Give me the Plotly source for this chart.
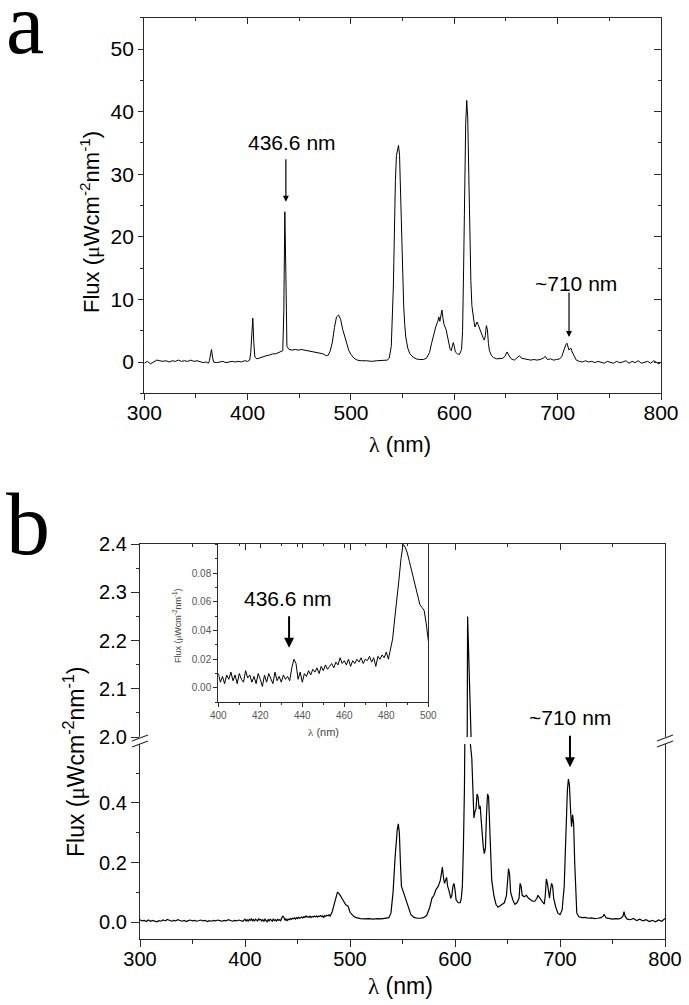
import plotly.graph_objects as go

# ---------------- data ----------------
# Panel a: spectrum (wavelength nm, flux uW cm^-2 nm^-1)
lam_a = [300, 303, 306, 309, 312, 315, 318, 321, 324, 327, 330, 333, 336, 339, 342, 345, 348, 351, 354, 357,
         360, 362, 363, 364, 365, 366, 367, 370, 373, 376, 379, 382, 385, 388, 391, 394, 397, 400, 402, 403,
         404, 405, 406, 407, 409, 412, 415, 418, 421, 424, 427, 430, 432, 434, 435, 436, 437, 438, 440, 443,
         446, 449, 452, 455, 458, 461, 464, 467, 470, 473, 476, 478, 480, 482, 484, 486, 488, 490, 492, 494,
         496, 498, 500, 503, 506, 510, 515, 520, 525, 530, 535, 537, 539, 541, 542, 543, 544, 545, 546, 547,
         548, 549, 550, 551, 552, 553, 555, 557, 560, 563, 566, 570, 573, 576, 578, 580, 582, 584, 585, 586,
         587, 588, 589, 590, 592, 594, 596, 597, 598, 599, 600, 601, 603, 605, 607, 608, 609, 610, 611, 612,
         613, 614, 615, 616, 617, 618, 619, 620, 621, 622, 623, 624, 626, 628, 629, 630, 631, 632, 633, 634,
         636, 638, 641, 644, 647, 649, 651, 653, 655, 658, 661, 663, 665, 668, 671, 674, 677, 680, 683, 686,
         688, 690, 693, 696, 699, 702, 704, 706, 708, 709, 710, 711, 712, 713, 714, 716, 718, 721, 724, 727,
         730, 733, 736, 739, 742, 745, 748, 751, 754, 757, 760, 763, 766, 769, 772, 775, 778, 781, 784, 787,
         790, 793, 796, 798, 800]
flux_a = [-0.2, 0.1, -0.3, 0.0, 0.3, 0.2, 0.1, 0.2, 0.0, 0.2, 0.1, 0.3, 0.1, 0.2, 0.1, 0.3, 0.1, 0.2, 0.0, -0.1,
          0.0, -0.2, 0.2, 1.2, 2.0, 0.8, 0.0, -0.1, 0.0, 0.1, -0.1, 0.0, 0.1, 0.0, 0.1, 0.0, 0.2, 0.1, 0.3, 1.5,
          5.5, 7.0, 3.0, 0.8, 0.5, 0.7, 0.9, 1.0, 1.1, 1.3, 1.3, 1.5, 1.6, 1.8, 8.0, 24.0, 14.0, 2.5, 2.0, 1.9,
          2.0, 1.9, 2.0, 1.9, 1.9, 1.8, 1.7, 1.6, 1.5, 1.3, 1.0, 1.1, 1.8, 3.2, 5.5, 7.2, 7.5, 6.8, 5.2, 4.0,
          2.8, 1.8, 1.2, 0.6, 0.3, 0.2, 0.2, 0.1, 0.2, 0.2, 0.3, 0.6, 2.5, 12.0, 22.0, 29.0, 33.0, 33.8, 34.6, 33.0,
          27.0, 18.0, 12.0, 9.0, 6.0, 4.0, 2.2, 1.3, 0.8, 0.5, 0.4, 0.4, 0.6, 1.5, 3.0, 4.5, 5.6, 6.5, 7.2, 6.5,
          7.5, 8.3, 7.0, 6.0, 5.2, 3.5, 2.0, 1.8, 2.8, 3.1, 2.5, 1.6, 1.3, 1.2, 2.0, 5.0, 15.0, 28.0, 38.0, 41.8,
          39.0, 30.0, 20.0, 13.0, 9.0, 7.5, 6.5, 5.6, 6.0, 6.4, 6.0, 5.5, 4.8, 3.8, 3.5, 4.2, 5.8, 5.2, 3.0, 1.8,
          1.0, 0.7, 0.5, 0.5, 0.6, 0.9, 1.6, 1.0, 0.5, 0.3, 0.7, 1.0, 0.6, 0.5, 0.4, 0.3, 0.4, 0.3, 0.4, 0.6,
          0.9, 0.4, 0.5, 0.3, 0.4, 0.5, 0.9, 2.0, 2.8, 3.0, 2.6, 1.9, 2.1, 2.2, 1.6, 0.8, 0.3, 0.1, 0.0, 0.2,
          0.0, 0.1, -0.1, 0.1, 0.0, -0.2, 0.1, 0.0, -0.2, 0.1, -0.1, 0.0, 0.2, -0.2, 0.1, -0.1, 0.2, -0.2, 0.0, 0.1,
          -0.2, 0.2, -0.1, -0.3, 0.0]

# Panel b (and inset): spectrum
lam_b = [300, 302, 304, 306, 308, 310, 312, 314, 316, 318, 320, 322, 324, 326, 328, 330, 332, 334, 336, 338,
         340, 342, 344, 346, 348, 350, 352, 354, 356, 358, 360, 362, 364, 366, 368, 370, 372, 374, 376, 378,
         380, 382, 384, 386, 388, 390, 392, 394, 396, 398,
         400, 401, 402, 403, 404, 405, 406, 407, 408, 409, 410, 411, 412, 413, 414, 415, 416, 417, 418, 419,
         420, 421, 422, 423, 424, 425, 426, 427, 428, 429, 430, 431, 432, 433, 434, 435, 436, 437, 438, 439,
         440, 441, 442, 443, 444, 445, 446, 447, 448, 449, 450, 451, 452, 453, 454, 455, 456, 457, 458, 459,
         460, 461, 462, 463, 464, 465, 466, 467, 468, 469, 470, 471, 472, 473, 474, 475, 476, 477, 478, 479,
         480, 481, 482, 483, 484, 485, 486, 487, 488, 489, 490, 491, 492, 493, 494, 495, 496, 497, 498, 499,
         500, 502, 504, 506, 508, 510, 514, 518, 522, 526, 530, 534, 537, 539, 541, 543, 544, 545, 546, 547,
         548, 549, 550, 552, 554, 556, 558, 561, 564, 567, 570, 573, 576, 578, 580, 582, 584, 586, 587, 588,
         589, 590, 591, 592, 593, 594, 596, 597, 598, 599, 600, 601, 603, 605, 606, 607, 608, 609, 610, 611,
         612, 613, 614, 615, 616, 617, 618, 619, 620, 621, 622, 623, 624, 625, 626, 627, 628, 629, 630, 631,
         632, 633, 634, 635, 637, 639, 641, 643, 645, 647, 649, 650, 651, 652, 653, 655, 657, 659, 661, 662,
         663, 664, 666, 668, 670, 672, 674, 676, 678, 679, 681, 683, 685, 686, 687, 688, 689, 690, 691, 692,
         693, 694, 696, 698, 700, 702, 704, 705, 706, 707, 708, 709, 710, 711, 712, 713, 714, 715, 716, 718,
         721, 724, 727, 730, 733, 736, 739, 741, 742, 744, 747, 750, 753, 756, 758, 760, 761, 762, 764, 767,
         770, 773, 776, 779, 782, 785, 788, 791, 794, 797, 800]
flux_b = [0.008, 0.004, 0.006, 0.002, 0.007, 0.003, 0.006, 0.004, 0.001, 0.005, 0.003, 0.007, 0.004, 0.009, 0.005, 0.003, 0.006, 0.004, 0.008, 0.005,
          0.003, 0.006, 0.002, 0.005, 0.007, 0.004, 0.006, 0.003, 0.005, 0.007, 0.004, 0.006, 0.002, 0.005, 0.003, 0.006, 0.004, 0.007, 0.005, 0.003,
          0.006, 0.004, 0.008, 0.005, 0.003, 0.006, 0.004, 0.007, 0.005, 0.003,
          0.010, 0.004, 0.008, 0.003, 0.009, 0.006, 0.011, 0.005, 0.009, 0.003, 0.010, 0.006, 0.004, 0.012, 0.007, 0.009, 0.004, 0.008, 0.003, 0.010,
          0.006, 0.001, 0.009, 0.004, 0.010, 0.006, 0.003, 0.011, 0.005, 0.008, 0.004, 0.009, 0.006, 0.008, 0.005, 0.014, 0.020, 0.017, 0.006, 0.011,
          0.004, 0.010, 0.008, 0.012, 0.009, 0.013, 0.011, 0.014, 0.010, 0.015, 0.012, 0.016, 0.013, 0.015, 0.017, 0.014, 0.018, 0.016, 0.021, 0.017,
          0.019, 0.016, 0.020, 0.015, 0.019, 0.017, 0.020, 0.018, 0.021, 0.017, 0.020, 0.019, 0.022, 0.018, 0.021, 0.015, 0.022, 0.020, 0.023, 0.021,
          0.025, 0.020, 0.026, 0.034, 0.048, 0.060, 0.075, 0.090, 0.100, 0.098, 0.094, 0.088, 0.082, 0.075, 0.068, 0.062, 0.058, 0.056, 0.054, 0.045,
          0.033, 0.025, 0.018, 0.015, 0.013, 0.012, 0.011, 0.012, 0.010, 0.012, 0.011, 0.012, 0.015, 0.030, 0.100, 0.220, 0.290, 0.310, 0.330, 0.300,
          0.200, 0.120, 0.110, 0.090, 0.070, 0.045, 0.025, 0.016, 0.013, 0.013, 0.015, 0.022, 0.050, 0.080, 0.090, 0.110, 0.120, 0.140, 0.160, 0.185,
          0.150, 0.130, 0.140, 0.150, 0.120, 0.110, 0.080, 0.090, 0.120, 0.130, 0.110, 0.075, 0.065, 0.065, 0.080, 0.120, 0.250, 0.450, 0.900, 1.600,
          2.250, 1.300, 0.620, 0.580, 0.550, 0.450, 0.350, 0.370, 0.380, 0.430, 0.420, 0.380, 0.390, 0.340, 0.290, 0.250, 0.230, 0.250, 0.360, 0.430,
          0.420, 0.330, 0.220, 0.140, 0.090, 0.060, 0.050, 0.055, 0.060, 0.065, 0.090, 0.140, 0.180, 0.160, 0.100, 0.075, 0.060, 0.065, 0.080, 0.130,
          0.120, 0.090, 0.085, 0.090, 0.080, 0.075, 0.070, 0.070, 0.080, 0.090, 0.080, 0.070, 0.060, 0.090, 0.145, 0.130, 0.100, 0.080, 0.110, 0.130,
          0.120, 0.080, 0.050, 0.030, 0.025, 0.040, 0.120, 0.250, 0.380, 0.440, 0.480, 0.460, 0.380, 0.320, 0.360, 0.330, 0.200, 0.080, 0.030, 0.018,
          0.015, 0.016, 0.013, 0.014, 0.012, 0.013, 0.015, 0.020, 0.025, 0.014, 0.012, 0.010, 0.012, 0.011, 0.013, 0.020, 0.035, 0.020, 0.010, 0.008,
          0.012, 0.005, 0.010, 0.004, 0.008, 0.002, 0.006, 0.001, 0.007, 0.003, 0.012]

# tick values / labels
a_yticks = [0, 10, 20, 30, 40, 50]
b_low_ticks = [0.0, 0.2, 0.4]
b_up_ticks = [2.0, 2.1, 2.2, 2.3, 2.4]
inset_yticks = [0.00, 0.02, 0.04, 0.06, 0.08]
x_ticks = [300, 400, 500, 600, 700, 800]
inset_xticks = [400, 420, 440, 460, 480, 500]

# ---------------- layout helpers ----------------
W, H = 689, 1005
def px(v):
    return v / W
def py(v):
    return 1 - v / H

FONT = "Liberation Sans, Arial, sans-serif"
SERIF = "Liberation Serif, Times New Roman, serif"
AX = "#2a2a2a"

def axis(**kw):
    d = dict(showline=True, linecolor=AX, linewidth=1.3, showgrid=False, zeroline=False,
             ticks="outside", tickcolor=AX, tickwidth=1.2, ticklen=6, automargin=False,
             tickfont=dict(family=FONT, size=21, color="black"))
    d.update(kw)
    return d

def mirror_axis(**kw):
    d = dict(showline=True, linecolor=AX, linewidth=1.3, showgrid=False, zeroline=False,
             ticks="inside", tickcolor=AX, tickwidth=1.2, ticklen=6, showticklabels=False, automargin=False)
    d.update(kw)
    return d

line_style = dict(color="black", width=1)

fig = go.Figure()
# panel a
fig.add_trace(go.Scatter(x=lam_a, y=flux_a, mode="lines", line=line_style, xaxis="x", yaxis="y"))
fig.add_trace(go.Scatter(x=[], y=[], mode="lines", xaxis="x2", yaxis="y2"))
# panel b lower & upper segments
fig.add_trace(go.Scatter(x=lam_b, y=flux_b, mode="lines", line=dict(color="black", width=1.2), xaxis="x3", yaxis="y3"))
fig.add_trace(go.Scatter(x=lam_b, y=flux_b, mode="lines", line=dict(color="black", width=1.2), xaxis="x3", yaxis="y4"))
fig.add_trace(go.Scatter(x=[], y=[], mode="lines", xaxis="x4", yaxis="y4"))
# inset
fig.add_trace(go.Scatter(x=lam_b, y=flux_b, mode="lines", line=dict(color="black", width=1), xaxis="x5", yaxis="y5"))
fig.add_trace(go.Scatter(x=[], y=[], mode="lines", xaxis="x6", yaxis="y5"))

A_X = [px(144.3), px(661)]
A_Y = [py(393.3), py(17.7)]
B_X = [px(140), px(665)]
B_YL = [py(938.5), py(744)]
B_YU = [py(737), py(544.3)]
I_X = [px(218.3), px(428.3)]
I_Y = [py(702.3), py(544.3)]

minor_out = lambda dt, ln=3: dict(dtick=dt, ticks="outside", ticklen=ln, tickcolor=AX, tickwidth=1)
minor_in = lambda dt, ln=3: dict(dtick=dt, ticks="inside", ticklen=ln, tickcolor=AX, tickwidth=1)

fig.update_layout(
    width=W, height=H, margin=dict(l=0, r=0, t=0, b=0, autoexpand=False),
    paper_bgcolor="white", plot_bgcolor="rgba(0,0,0,0)", showlegend=False,
    xaxis=axis(domain=A_X, anchor="y", range=[300, 800], tickvals=x_ticks, minor=minor_out(50, 4), ticklen=6,
               ticklabelstandoff=-6),
    xaxis2=mirror_axis(overlaying="x", anchor="y", side="top", range=[300, 800], tickvals=x_ticks, minor=minor_in(50, 3)),
    yaxis=axis(domain=A_Y, anchor="x", range=[-5, 55], tickvals=a_yticks, minor=minor_out(5, 3), ticklen=5),
    yaxis2=mirror_axis(overlaying="y", anchor="x", side="right", range=[-5, 55], tickvals=a_yticks, minor=minor_in(5, 3), ticklen=7),

    xaxis3=axis(domain=B_X, anchor="y3", range=[300, 800], tickvals=x_ticks, minor=minor_out(50, 4), ticklen=7,
                ticklabelstandoff=-5, tickfont=dict(family=FONT, size=20, color="black")),
    yaxis3=axis(domain=B_YL, anchor="x3", range=[-0.055, 0.598], tickvals=b_low_ticks, tickformat=".1f",
                minor=minor_out(0.1, 3), ticklen=8, mirror=True, tickfont=dict(family=FONT, size=20, color="black")),
    yaxis4=axis(domain=B_YU, anchor="x3", range=[2.0, 2.4], tickvals=b_up_ticks, tickformat=".1f",
                minor=minor_out(0.05, 3), ticklen=8, mirror=True, tickfont=dict(family=FONT, size=20, color="black")),
    xaxis4=mirror_axis(overlaying="x3", anchor="y4", side="top", range=[300, 800], tickvals=x_ticks, minor=minor_in(50, 3)),

    xaxis5=axis(domain=I_X, anchor="y5", range=[400, 500], tickvals=inset_xticks, minor=minor_out(10, 2), ticklen=4,
                linewidth=1.1, tickfont=dict(family=FONT, size=10, color="#555")),
    xaxis6=mirror_axis(overlaying="x5", anchor="y5", side="top", range=[400, 500], tickvals=inset_xticks,
                       minor=minor_in(10, 2), ticklen=4, linewidth=1.1),
    yaxis5=axis(domain=I_Y, anchor="x5", range=[-0.01, 0.10], tickvals=inset_yticks, tickformat=".2f",
                minor=minor_out(0.01, 2), ticklen=4, mirror=True, linewidth=1.1,
                tickfont=dict(family=FONT, size=10, color="#555")),
)

lam = '<span style="font-family:Liberation Serif">λ</span> (nm)'
flux_title = 'Flux (<span style="font-family:Liberation Serif">μ</span>Wcm<sup>-2</sup>nm<sup>-1</sup>)'

def text_ann(text, x, y, size, color="black", family=FONT, angle=0, xanchor="center"):
    return dict(text=text, x=px(x), y=py(y), xref="paper", yref="paper", xanchor=xanchor, yanchor="middle",
                textangle=angle, showarrow=False, font=dict(family=family, size=size, color=color))

def arrow_ann(x, y, xref, yref, ay, width):
    return dict(text="", x=x, y=y, xref=xref, yref=yref, showarrow=True, ax=0, ay=ay,
                arrowhead=2, arrowsize=1, arrowwidth=width, arrowcolor="black")

ann = [
    # panel letters
    text_ann("a", 4, 24, 86, family=SERIF, xanchor="left"),
    text_ann("b", 4, 524, 88, family=SERIF, xanchor="left"),
    # axis titles
    text_ann(flux_title, 90, 222, 22, angle=-90),
    text_ann(lam, 400, 444, 22),
    text_ann(flux_title, 74, 762, 23, angle=-90),
    text_ann(lam, 400, 986, 23),
    # inset titles
    text_ann(flux_title, 177, 626, 9, color="#444", angle=-90),
    text_ann(lam, 323, 732, 11, color="#444"),
    # panel a labels and arrows
    text_ann("436.6 nm", 292, 143, 21),
    arrow_ann(437, 25.6, "x", "y", -44, 1.2),
    text_ann("~710 nm", 576, 283, 21),
    arrow_ann(711, 4.0, "x", "y", -46, 1.2),
    # panel b labels and arrows
    text_ann("~710 nm", 570, 717, 21),
    arrow_ann(709.5, 0.52, "x3", "y3", -33, 2),
    text_ann("436.6 nm", 288, 598, 21),
    arrow_ann(433.7, 0.028, "x5", "y5", -33, 2),
]
fig.update_layout(annotations=ann)

# axis-break marks
shapes = []
for xb in (140, 665):
    for yb in (738, 744):
        shapes.append(dict(type="line", xref="paper", yref="paper",
                           x0=px(xb - 8), y0=py(yb + 3), x1=px(xb + 8), y1=py(yb - 3),
                           line=dict(color=AX, width=1.3)))
fig.update_layout(shapes=shapes)

fig.write_html("out.html", config={"displayModeBar": False},
               post_script="document.body.style.margin='0px';")
